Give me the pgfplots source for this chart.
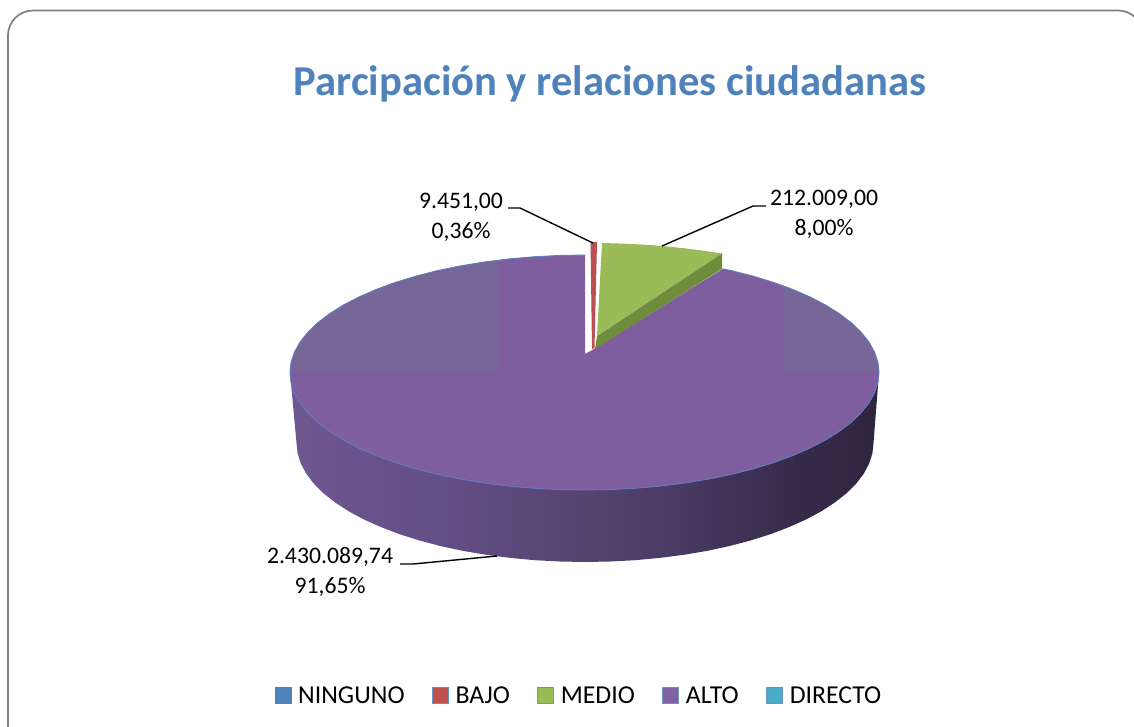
\documentclass[border=0pt]{standalone}
\usepackage{fontspec}
\setmainfont{Carlito}
\usepackage{pgfplots}
\pgfplotsset{compat=1.18}
\definecolor{titleblue}{HTML}{4F81BD}
\definecolor{ptop}{HTML}{7E5E9E}
\definecolor{pband}{HTML}{776698}
\definecolor{pedge}{HTML}{5F7DBD}
\definecolor{gtop}{HTML}{9BBB59}
\definecolor{gside}{HTML}{6F8C3C}
\definecolor{rtop}{HTML}{B94F52}
\definecolor{lblue}{HTML}{4F81BD}
\definecolor{lred}{HTML}{C0504D}
\definecolor{lpurple}{HTML}{8064A2}
\definecolor{lcyan}{HTML}{4BACC6}
\definecolor{wa}{HTML}{6F5790}
\definecolor{wb}{HTML}{66508A}
\definecolor{wc}{HTML}{5A4676}
\definecolor{wd}{HTML}{4A3A63}
\definecolor{we}{HTML}{362A4A}
\definecolor{wf}{HTML}{2F2540}
\pgfdeclarehorizontalshading{wallshade}{100bp}{color(0bp)=(wa); color(25bp)=(wa); color(35bp)=(wb); color(47bp)=(wc); color(58bp)=(wd); color(68bp)=(we); color(75bp)=(wf); color(100bp)=(wf)}
\begin{document}
\begin{tikzpicture}
\begin{axis}[
  scale only axis, width=1134pt, height=726pt,
  xmin=0, xmax=1134, ymin=0, ymax=726, y dir=reverse,
  hide axis, clip=true,
  legend columns=5,
  legend style={draw=none, fill=none, font=\fontsize{25.8}{28}\selectfont,
    at={(axis cs:579,695.5)}, anchor=center, inner sep=0pt, outer sep=0pt,
    /tikz/every even column/.append style={column sep=25pt},
    /tikz/every odd column/.append style={column sep=5pt}},
  legend image code/.code={\draw[#1] (0pt,-8pt) rectangle (16pt,8pt);},
]
% Frame
\draw[color=black!50, line width=1.7pt, rounded corners=25pt]
  (axis cs:8,780) -- (axis cs:8,10.5) -- (axis cs:1143,10.5) -- (axis cs:1143,780);
% Wall of the ALTO slice
\addplot[draw=none, shading=wallshade, forget plot] coordinates {
(879,372.5)(877.9,382.7)(874.5,392.9)(869,402.9)(861.2,412.7)(851.4,422.2)(839.5,431.25)(825.7,439.9)(810.1,448)(792.7,455.6)(773.8,462.5)(753.4,468.8)(731.75,474.3)(709,479)(685.2,482.9)(660.7,486)(635.6,488.2)(610.2,489.55)(584.5,490)
(558.8,489.55)(533.4,488.2)(508.3,486)(483.8,482.9)(460,479)(437.25,474.3)(415.6,468.8)(395.2,462.5)(376.3,455.6)(358.9,448)(343.3,439.9)(329.5,431.25)(317.6,422.2)(307.8,412.7)(300,402.9)(294.5,392.9)(291.1,382.7)(290,372.5)
(296.5,443)(297.6,453.4)(300.9,463.7)(306.3,473.8)(313.9,483.7)(323.5,493.3)(335.2,502.5)(348.7,511.3)(364,519.5)(381,527.1)(399.6,534.2)(419.5,540.5)(440.75,546.1)(463.1,550.9)(486.3,554.8)(510.3,557.9)(534.9,560.2)(559.8,561.5)(585,562)
(610.2,561.5)(635.1,560.2)(659.7,557.9)(683.7,554.8)(706.9,550.9)(729.25,546.1)(750.5,540.5)(770.4,534.2)(789,527.1)(806,519.5)(821.3,511.3)(834.8,502.5)(846.5,493.3)(856.1,483.7)(863.7,473.8)(869.1,463.7)(872.4,453.4)(873.5,443)
} -- cycle;
% Top of the ALTO slice
\addplot[draw=none, fill=ptop, forget plot] coordinates {
(722.8,268.8)(731.75,270.7)(753.4,276.2)(773.8,282.5)(792.7,289.4)(810.1,297)(825.7,305.1)(839.5,313.75)(851.4,322.8)(861.2,332.3)(869,342.1)(874.5,352.1)(877.9,362.3)
(879,372.5)(877.9,382.7)(874.5,392.9)(869,402.9)(861.2,412.7)(851.4,422.2)(839.5,431.25)(825.7,439.9)(810.1,448)(792.7,455.6)(773.8,462.5)(753.4,468.8)(731.75,474.3)(709,479)(685.2,482.9)(660.7,486)(635.6,488.2)(610.2,489.55)(584.5,490)
(558.8,489.55)(533.4,488.2)(508.3,486)(483.8,482.9)(460,479)(437.25,474.3)(415.6,468.8)(395.2,462.5)(376.3,455.6)(358.9,448)(343.3,439.9)(329.5,431.25)(317.6,422.2)(307.8,412.7)(300,402.9)(294.5,392.9)(291.1,382.7)(290,372.5)
(291.1,362.3)(294.5,352.1)(300,342.1)(307.8,332.3)(317.6,322.8)(329.5,313.75)(343.3,305.1)(358.9,297)(376.3,289.4)(395.2,282.5)(415.6,276.2)(437.25,270.7)(460,266)(483.8,262.1)(508.3,259)(533.4,256.8)(558.8,255.45)(585,255)
(585,354)(594,349)
} -- cycle;
% Greyer bands of the top face
\addplot[draw=none, fill=pband, forget plot] coordinates {
(498,260.2)(483.8,262.1)(460,266)(437.25,270.7)(415.6,276.2)(395.2,282.5)(376.3,289.4)(358.9,297)(343.3,305.1)(329.5,313.75)(317.6,322.8)(307.8,332.3)(300,342.1)(294.5,352.1)(291.1,362.3)(290,371)(498,371)
} -- cycle;
\addplot[draw=none, fill=pband, forget plot] coordinates {
(783,285.7)(792.7,289.4)(810.1,297)(825.7,305.1)(839.5,313.75)(851.4,322.8)(861.2,332.3)(869,342.1)(874.5,352.1)(877.9,362.3)(879,371)(783,371)
} -- cycle;
% Edge of the top face
\addplot[pedge, line width=0.9pt, forget plot] coordinates {
(722.8,268.8)(731.75,270.7)(753.4,276.2)(773.8,282.5)(792.7,289.4)(810.1,297)(825.7,305.1)(839.5,313.75)(851.4,322.8)(861.2,332.3)(869,342.1)(874.5,352.1)(877.9,362.3)
(879,372.5)(877.9,382.7)(874.5,392.9)(869,402.9)(861.2,412.7)(851.4,422.2)(839.5,431.25)(825.7,439.9)(810.1,448)(792.7,455.6)(773.8,462.5)(753.4,468.8)(731.75,474.3)(709,479)(685.2,482.9)(660.7,486)(635.6,488.2)(610.2,489.55)(584.5,490)
(558.8,489.55)(533.4,488.2)(508.3,486)(483.8,482.9)(460,479)(437.25,474.3)(415.6,468.8)(395.2,462.5)(376.3,455.6)(358.9,448)(343.3,439.9)(329.5,431.25)(317.6,422.2)(307.8,412.7)(300,402.9)(294.5,392.9)(291.1,382.7)(290,372.5)
(291.1,362.3)(294.5,352.1)(300,342.1)(307.8,332.3)(317.6,322.8)(329.5,313.75)(343.3,305.1)(358.9,297)(376.3,289.4)(395.2,282.5)(415.6,276.2)(437.25,270.7)(460,266)(483.8,262.1)(508.3,259)(533.4,256.8)(558.8,255.45)(585,255)
};
% MEDIO slice, wall and top
\addplot[draw=none, fill=gside, forget plot] coordinates {(597,336)(722,253)(722,268.8)(595,349)} -- cycle;
\addplot[draw=none, fill=gtop, forget plot] coordinates {(602,243)(622,243.6)(642,244.5)(662,246)(682,248)(702,250.5)(722,253.5)(597,336)} -- cycle;
% BAJO slice
\addplot[draw=none, fill=rtop, forget plot] coordinates {(590.5,242)(597,242)(594.5,348)(592,349)} -- cycle;
% Leader lines
\addplot[black, line width=1.4pt, forget plot] coordinates {(508,208)(520,208)(593,243)};
\addplot[black, line width=1.4pt, forget plot] coordinates {(766,206)(753,206)(662,246)};
\addplot[black, line width=1.4pt, forget plot] coordinates {(400,564)(413,564)(497,556)};
% Legend
\addlegendimage{draw=lblue, fill=lblue}
\addlegendentry{NINGUNO}
\addlegendimage{draw=lblue!85!white, line width=1pt, fill=lred}
\addlegendentry{BAJO}
\addlegendimage{draw=lblue!85!white, line width=1pt, fill=gtop}
\addlegendentry{MEDIO}
\addlegendimage{draw=lblue!85!white, line width=1pt, fill=lpurple}
\addlegendentry{ALTO}
\addlegendimage{draw=lblue!85!white, line width=1pt, fill=lcyan}
\addlegendentry{DIRECTO}
% Texts
\node[text=titleblue, font=\fontsize{42.6}{46}\selectfont\bfseries, anchor=center] at (axis cs:610,84) {Parcipación y relaciones ciudadanas};
\node[font=\fontsize{23.7}{30}\selectfont, align=center, anchor=center] at (axis cs:461,217) {9.451,00\\0,36\%};
\node[font=\fontsize{23.7}{30}\selectfont, align=center, anchor=center] at (axis cs:824,214) {212.009,00\\8,00\%};
\node[font=\fontsize{23.7}{30}\selectfont, align=center, anchor=center] at (axis cs:330,572) {2.430.089,74\\91,65\%};
\end{axis}
\pgfresetboundingbox
\path[use as bounding box] (current axis.south west) rectangle (current axis.north east);
\end{tikzpicture}
\end{document}
